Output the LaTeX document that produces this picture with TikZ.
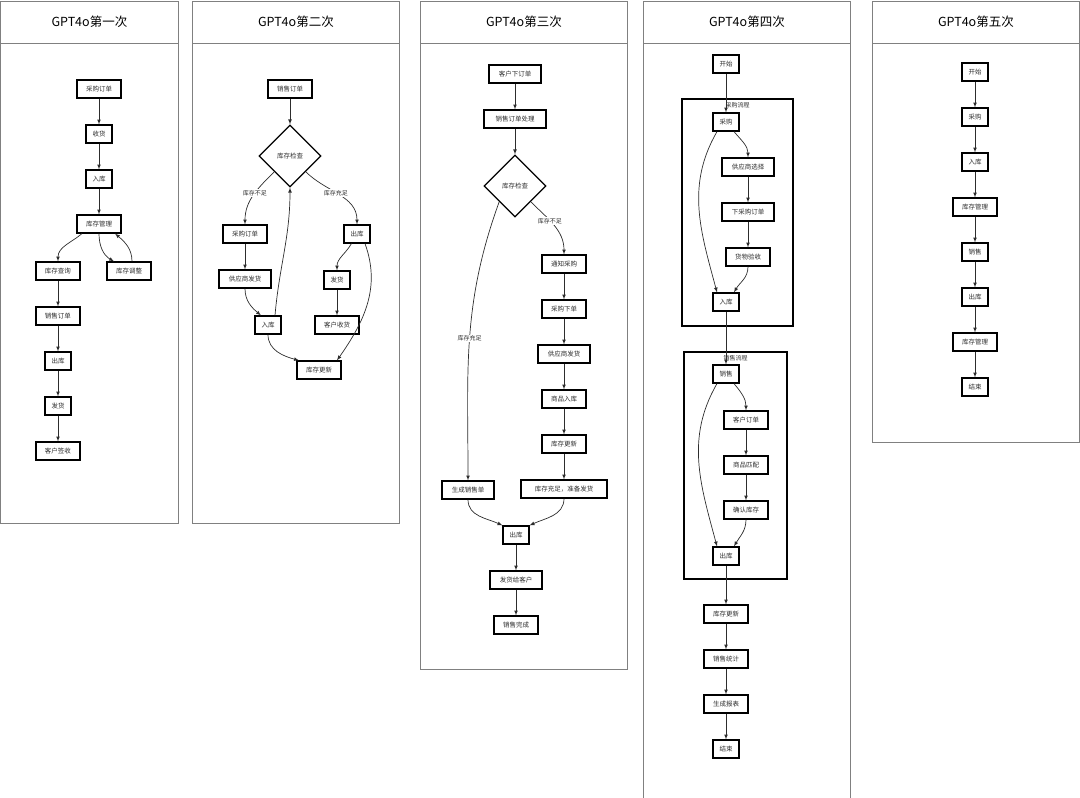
\documentclass[tikz,border=0pt]{standalone}
\usepackage{fontspec}
\setmainfont{Noto Sans CJK SC}
\usepackage{tikz}
\usetikzlibrary{shapes,arrows,positioning}
\definecolor{frame}{RGB}{128,128,128}
\definecolor{ink}{RGB}{45,45,45}
\tikzstyle{panel} = [draw=frame, line width=0.8pt, anchor=north west, inner sep=0pt]
\tikzstyle{pline} = [draw=frame, line width=0.8pt]
\tikzstyle{ttl} = [text=black, font=\fontsize{12.5}{14}\selectfont]
\tikzstyle{op} = [rectangle, draw=black, line width=1.2pt, text=ink, text centered, font=\fontsize{6.5}{8}\selectfont, minimum width=44pt, minimum height=18pt, inner sep=1pt]
\tikzstyle{ops} = [op, minimum width=26pt]
\tikzstyle{opw} = [op, minimum width=52pt]
\tikzstyle{dec} = [diamond, aspect=1, draw=black, line width=1.2pt, text=ink, font=\fontsize{6.5}{8}\selectfont, minimum size=62pt, inner sep=0pt]
\tikzstyle{grp} = [rectangle, draw=black, line width=1.2pt, inner sep=0pt]
\tikzstyle{glabel} = [text=ink, font=\fontsize{6}{7}\selectfont, inner sep=1pt]
\tikzstyle{elabel} = [fill=white, text=ink, font=\fontsize{6}{7}\selectfont, inner sep=1pt]
\tikzstyle{tedge}  = [draw=ink, line width=0.7pt, >=latex, ->]

\begin{document}
\begin{tikzpicture}[x=1pt, y=-1pt]
\useasboundingbox (0,0) rectangle (1080,798);

% panels =============================

\node[panel, minimum width=178pt, minimum height=522pt] (p1) at (0,0.5) {};
\node[panel, minimum width=207pt, minimum height=522pt] (p2) at (192,0.5) {};
\node[panel, minimum width=207pt, minimum height=668pt] (p3) at (420,0.5) {};
\node[panel, minimum width=207pt, minimum height=797pt] (p4) at (643,0.5) {};
\node[panel, minimum width=207pt, minimum height=441pt] (p5) at (872,0.5) {};

\foreach \p/\t in {p1/一, p2/二, p3/三, p4/四, p5/五}{
  \draw[pline] ([yshift=-43pt]\p.north west) -- ([yshift=-43pt]\p.north east);
  \node[ttl] (t\p) at ([yshift=-21.5pt]\p.north) {GPT4o第\t 次};
}

% first run
\node[op] (cg1) at (99,89) {采购订单};
\node[ops, below=25.8pt of cg1] (sh1) {收货};
\node[ops, below=25.8pt of sh1] (rk1) {入库};
\node[op, below=25.8pt of rk1] (gl1) {库存管理};
\node[op] (cx1) at (58,271) {库存查询};
\node[op] (tz1) at (129,271) {库存调整};
\node[op, below=25.8pt of cx1] (xd1) {销售订单};
\node[ops, below=25.8pt of xd1] (ck1) {出库};
\node[ops, below=25.8pt of ck1] (fh1) {发货};
\node[op, below=25.8pt of fh1] (qs1) {客户签收};

% second run
\node[op] (xd2) at (290,89) {销售订单};
\node[dec, below=25.8pt of xd2] (jc2) {库存检查};
\node[op] (cg2) at (245,234) {采购订单};
\node[opw, below=25.8pt of cg2] (gy2) {供应商发货};
\node[ops] (rk2) at (268,325) {入库};
\node[ops] (ck2) at (357,234) {出库};
\node[ops] (fh2) at (337,280) {发货};
\node[op, below=25.8pt of fh2] (sh2) {客户收货};
\node[op] (gx2) at (319,370) {库存更新};

% third run
\node[opw] (kx3) at (515,74) {客户下订单};
\node[op, minimum width=62pt, below=25.8pt of kx3] (xc3) {销售订单处理};
\node[dec, below=25.8pt of xc3] (jc3) {库存检查};
\node[op] (tz3) at (564,264) {通知采购};
\node[op, below=25.8pt of tz3] (xd3) {采购下单};
\node[opw, below=25.8pt of xd3] (gy3) {供应商发货};
\node[op, below=25.8pt of gy3] (sp3) {商品入库};
\node[op, below=25.8pt of sp3] (gx3) {库存更新};
\node[op, minimum width=86pt, below=25.8pt of gx3] (zb3) {库存充足，准备发货};
\node[opw] (sc3) at (468,490) {生成销售单};
\node[ops] (ck3) at (516,535) {出库};
\node[opw, below=25.8pt of ck3] (fh3) {发货给客户};
\node[op, below=25.8pt of fh3] (wc3) {销售完成};

% fourth run
\node[ops] (ks4) at (726,64) {开始};
\node[grp, minimum width=111pt, minimum height=227pt] (g41) at (737.5,212.5) {};
\node[glabel, below=3pt of g41.north] (lg41) {采购流程};
\node[ops] (cg4) at (726,122) {采购};
\node[opw] (gy4) at (748,167) {供应商选择};
\node[opw, below=25.8pt of gy4] (xd4) {下采购订单};
\node[op, below=25.8pt of xd4] (ys4) {货物验收};
\node[ops] (rk4) at (726,302) {入库};
\node[grp, minimum width=103pt, minimum height=227pt] (g42) at (735.5,465.5) {};
\node[glabel, below=3pt of g42.north] (lg42) {销售流程};
\node[ops] (xs4) at (726,374) {销售};
\node[op] (kd4) at (746,420) {客户订单};
\node[op, below=25.8pt of kd4] (pp4) {商品匹配};
\node[op, below=25.8pt of pp4] (qr4) {确认库存};
\node[ops] (ck4) at (726,556) {出库};
\node[op, below=38.8pt of ck4] (gx4) {库存更新};
\node[op, below=25.8pt of gx4] (tj4) {销售统计};
\node[op, below=25.8pt of tj4] (bb4) {生成报表};
\node[ops, below=25.8pt of bb4] (js4) {结束};

% fifth run
\node[ops] (ks5) at (975,72) {开始};
\node[ops, below=25.8pt of ks5] (cg5) {采购};
\node[ops, below=25.8pt of cg5] (rk5) {入库};
\node[op, below=25.8pt of rk5] (gl5) {库存管理};
\node[ops, below=25.8pt of gl5] (xs5) {销售};
\node[ops, below=25.8pt of xs5] (ck5) {出库};
\node[op, below=25.8pt of ck5] (gm5) {库存管理};
\node[ops, below=25.8pt of gm5] (js5) {结束};

%edges
\path[tedge] (cg1) -- (sh1);
\path[tedge] (sh1) -- (rk1);
\path[tedge] (rk1) -- (gl1);
\path[tedge] ([xshift=-17pt]gl1.south) to[out=-140,in=90] (cx1);
\path[tedge] (gl1.south) to[out=-90,in=150] ([xshift=-15pt]tz1.north);
\path[tedge] ([xshift=3pt]tz1.north) to[out=90,in=-40] ([xshift=16pt]gl1.south);
\path[tedge] (cx1) -- (xd1);
\path[tedge] (xd1) -- (ck1);
\path[tedge] (ck1) -- (fh1);
\path[tedge] (fh1) -- (qs1);

\path[tedge] (xd2) -- (jc2);
\path[tedge] (jc2.south west) to[out=-135,in=90] node[elabel, pos=0.45] {库存不足} (cg2);
\path[tedge] (jc2.south east) to[out=-45,in=90] node[elabel, pos=0.45] {库存充足} (ck2);
\path[tedge] (cg2) -- (gy2);
\path[tedge] (gy2) to[out=-90,in=140] ([xshift=-7pt]rk2.north);
\path[tedge] ([xshift=7pt]rk2.north) to[out=85,in=-90] (jc2.south);
\path[tedge] (rk2) to[out=-90,in=165] ([xshift=-20pt]gx2.north);
\path[tedge] (ck2) to[out=-120,in=90] (fh2);
\path[tedge] (fh2) -- (sh2);
\path[tedge] ([xshift=8pt]ck2.south) to[out=-70,in=55] ([xshift=18pt]gx2.north);

\path[tedge] (kx3) -- (xc3);
\path[tedge] (xc3) -- (jc3);
\path[tedge] (jc3.south west) to[out=-110,in=90] node[elabel, pos=0.5] {库存充足} (sc3);
\path[tedge] (jc3.south east) to[out=-45,in=90] node[elabel, pos=0.4] {库存不足} (tz3);
\path[tedge] (tz3) -- (xd3);
\path[tedge] (xd3) -- (gy3);
\path[tedge] (gy3) -- (sp3);
\path[tedge] (sp3) -- (gx3);
\path[tedge] (gx3) -- (zb3);
\path[tedge] (sc3) to[out=-90,in=155] (ck3.north west);
\path[tedge] (zb3) to[out=-90,in=25] (ck3.north east);
\path[tedge] (ck3) -- (fh3);
\path[tedge] (fh3) -- (wc3);

\path[tedge] (ks4) -- (cg4);
\path[tedge] ([xshift=8pt]cg4.south) to[out=-50,in=90] (gy4);
\path[tedge] (gy4) -- (xd4);
\path[tedge] (xd4) -- (ys4);
\path[tedge] (ys4) to[out=-90,in=60] ([xshift=8pt]rk4.north);
\path[tedge] ([xshift=-9pt]cg4.south) to[out=-120,in=105] ([xshift=-9pt]rk4.north);
\path[tedge] (rk4) -- (xs4);
\path[tedge] ([xshift=8pt]xs4.south) to[out=-50,in=90] (kd4);
\path[tedge] (kd4) -- (pp4);
\path[tedge] (pp4) -- (qr4);
\path[tedge] (qr4) to[out=-90,in=60] ([xshift=8pt]ck4.north);
\path[tedge] ([xshift=-9pt]xs4.south) to[out=-120,in=105] ([xshift=-9pt]ck4.north);
\path[tedge] (ck4) -- (gx4);
\path[tedge] (gx4) -- (tj4);
\path[tedge] (tj4) -- (bb4);
\path[tedge] (bb4) -- (js4);

\path[tedge] (ks5) -- (cg5);
\path[tedge] (cg5) -- (rk5);
\path[tedge] (rk5) -- (gl5);
\path[tedge] (gl5) -- (xs5);
\path[tedge] (xs5) -- (ck5);
\path[tedge] (ck5) -- (gm5);
\path[tedge] (gm5) -- (js5);

\end{tikzpicture}
\end{document}
